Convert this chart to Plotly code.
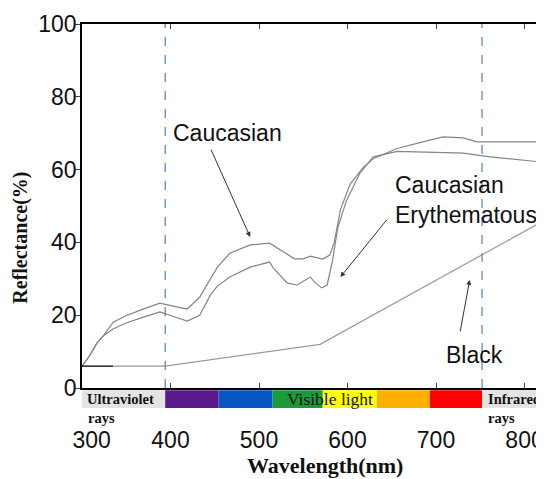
import plotly.graph_objects as go

# ---- data ----
wavelength_cauc = [300, 309, 317, 324, 335, 349, 366, 388, 407, 419, 433, 445, 453, 467, 490, 512, 527, 540, 550, 558, 572, 580, 585, 592, 603, 618, 629, 656, 685, 708, 731, 746, 822]
reflect_cauc = [6.0, 9.0, 12.4, 14.3, 18.0, 19.8, 21.4, 23.3, 22.3, 21.7, 25.0, 30.0, 33.2, 37.0, 39.3, 39.8, 37.5, 35.5, 35.5, 36.2, 35.4, 36.5, 40.0, 49.0, 56.0, 60.7, 63.0, 65.8, 67.6, 69.0, 68.7, 67.6, 67.6]

wavelength_ery = [300, 309, 317, 324, 335, 349, 366, 388, 405, 419, 433, 445, 453, 467, 490, 512, 516, 532, 543, 558, 563, 571, 577, 583, 589, 599, 614, 629, 656, 685, 731, 761, 822]
reflect_ery = [6.0, 9.0, 12.4, 14.3, 16.2, 17.8, 19.2, 20.9, 19.5, 18.4, 20.0, 25.5, 28.0, 30.5, 33.2, 34.6, 33.0, 28.8, 28.3, 30.5, 29.0, 27.5, 28.3, 35.0, 44.0, 51.6, 59.0, 63.5, 65.0, 64.8, 64.5, 63.5, 62.0]

wavelength_black = [335, 394, 569, 822]
reflect_black = [6.0, 6.0, 12.0, 46.0]
wavelength_black_start = [300, 335]
reflect_black_start = [6.0, 6.0]

band_edges = [300, 394, 454, 515, 572, 633, 693, 752, 822]
band_colors = ["#e3e3e3", "#5a1a8c", "#0756c2", "#1b9a3c", "#ffff00", "#ffb000", "#ff0000", "#e3e3e3"]
dashed_lines = [394, 752]

x_ticks = [300, 400, 500, 600, 700, 800]
x_tick_text = ["\u00a0\u00a0\u00a0300", "400", "500", "600", "700", "800"]
y_ticks = [0, 20, 40, 60, 80, 100]

# ---- figure ----
fig = go.Figure()
line_gray = "#858585"
fig.add_trace(go.Scatter(x=wavelength_cauc, y=reflect_cauc, mode="lines",
                         line=dict(color=line_gray, width=1.2), name="Caucasian"))
fig.add_trace(go.Scatter(x=wavelength_ery, y=reflect_ery, mode="lines",
                         line=dict(color=line_gray, width=1.2), name="Caucasian Erythematous"))
fig.add_trace(go.Scatter(x=wavelength_black, y=reflect_black, mode="lines",
                         line=dict(color="#9a9a9a", width=1.2), name="Black"))
fig.add_trace(go.Scatter(x=wavelength_black_start, y=reflect_black_start, mode="lines",
                         line=dict(color="#222222", width=1.5), showlegend=False))

shapes = []
for i, c in enumerate(band_colors):
    shapes.append(dict(type="rect", xref="x", yref="paper",
                       x0=band_edges[i], x1=band_edges[i + 1], y0=-0.006, y1=-0.055,
                       fillcolor=c, line=dict(width=0), layer="above"))
for d in dashed_lines:
    shapes.append(dict(type="line", xref="x", yref="paper", x0=d, x1=d, y0=0, y1=1,
                       line=dict(color="#4f7fbf", width=1.2, dash="dash")))

serif = "Liberation Serif, Times New Roman, serif"
sans = "Liberation Sans, Arial, sans-serif"
ann = []
ann.append(dict(x=303, y=-0.03, xref="x", yref="paper", text="<b>Ultraviolet</b>", showarrow=False,
                xanchor="left", yanchor="middle", font=dict(family=serif, size=14.5, color="#111")))
ann.append(dict(x=305, y=-0.082, xref="x", yref="paper", text="<b>rays</b>", showarrow=False,
                xanchor="left", yanchor="middle", font=dict(family=serif, size=14.5, color="#111")))
ann.append(dict(x=580, y=-0.03, xref="x", yref="paper", text="Visible light", showarrow=False,
                xanchor="center", yanchor="middle", font=dict(family=serif, size=17.5, color="#111")))
ann.append(dict(x=756, y=-0.03, xref="x", yref="paper", text="<b>Infrared</b>", showarrow=False,
                xanchor="left", yanchor="middle", font=dict(family=serif, size=14.5, color="#111")))
ann.append(dict(x=756, y=-0.082, xref="x", yref="paper", text="<b>rays</b>", showarrow=False,
                xanchor="left", yanchor="middle", font=dict(family=serif, size=14.5, color="#111")))

# labels
ann.append(dict(x=400, y=70, xref="x", yref="y", text="Caucasian", showarrow=False,
                xanchor="left", yanchor="middle", font=dict(family=sans, size=23, color="#111")))
ann.append(dict(x=651, y=51.6, xref="x", yref="y", text="Caucasian<br>Erythematous", showarrow=False,
                xanchor="left", yanchor="middle", align="left",
                font=dict(family=sans, size=23, color="#111")))
ann.append(dict(x=744, y=9, xref="x", yref="y", text="Black", showarrow=False,
                xanchor="center", yanchor="middle", font=dict(family=sans, size=23, color="#111")))

# arrows
arrows = [((490, 41.5), (445, 65.9)), ((592, 30.5), (646, 46.7)), ((738, 29.7), (727, 15.1))]
for (hx, hy), (tx, ty) in arrows:
    ann.append(dict(x=hx, y=hy, ax=tx, ay=ty, xref="x", yref="y", axref="x", ayref="y",
                    text="", showarrow=True, arrowhead=2, arrowsize=1, arrowwidth=1,
                    arrowcolor="#333"))

# axis titles
ann.append(dict(x=-0.132, y=0.413, xref="paper", yref="paper", text="<b>Reflectance(%)</b>",
                showarrow=False, textangle=-90, xanchor="center", yanchor="middle",
                font=dict(family=serif, size=20, color="#111")))
ann.append(dict(x=0.526, y=-0.212, xref="paper", yref="paper", text="<b>Wavelength(nm)</b>",
                showarrow=False, xanchor="center", yanchor="middle",
                font=dict(family=serif, size=22, color="#111")))

fig.update_layout(
    width=536, height=471,
    margin=dict(l=74, r=0, t=16, b=91, autoexpand=False),
    paper_bgcolor="white", plot_bgcolor="white",
    showlegend=False,
    shapes=shapes, annotations=ann,
    xaxis=dict(range=[300, 822], tickvals=x_ticks, ticktext=x_tick_text, ticks="inside", ticklen=5,
               showline=True, linecolor="black", linewidth=1.5, mirror="ticks",
               showgrid=False, zeroline=False, ticklabelstandoff=31, automargin=False,
               tickfont=dict(family=sans, size=23, color="#111")),
    yaxis=dict(range=[0, 100], tickvals=y_ticks, ticks="outside", ticklen=5,
               showline=True, linecolor="black", linewidth=1.5, automargin=False,
               showgrid=False, zeroline=False, ticklabelstandoff=-6,
               tickfont=dict(family=sans, size=23, color="#111")),
)

fig.write_html("out.html")
